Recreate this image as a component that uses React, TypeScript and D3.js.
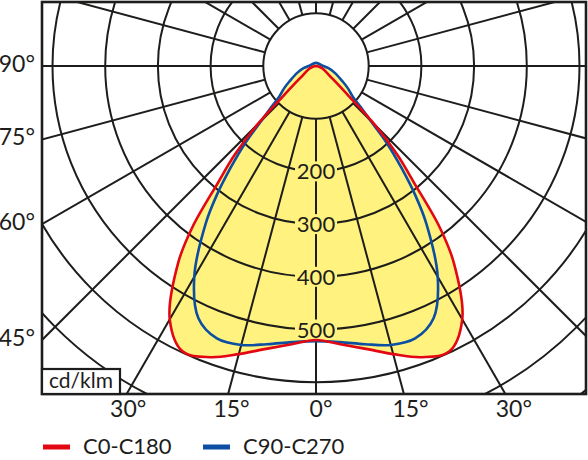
import React from 'react';
import * as d3 from 'd3';

// Polar light distribution, gamma angle measured from nadir (straight down)
const ANGLES = [0, 5, 10, 15, 20, 25, 30, 35, 37.5, 40, 42.5, 45, 47.5, 50, 55, 60, 70, 80, 90, 180];
const C0_C180 = [520, 530, 545, 566, 588, 598, 555, 456, 385, 290, 228, 158, 85, 55, 30, 22, 12, 5, 0, 0];
const C90_C270 = [522, 526, 536, 548, 550, 528, 462, 365, 310, 252, 200, 145, 115, 92, 74, 58, 38, 24, 14, 6];

const RING_VALUES = [100, 200, 300, 400, 500, 600, 700, 800];
const RING_LABELS = [200, 300, 400, 500];
const GRID_ANGLES = d3.range(0, 360, 15);
const SIDE_TICKS = [90, 75, 60, 45];
const BOTTOM_TICKS = [-30, -15, 0, 15, 30];

const SERIES = [
  { name: 'C0-C180', values: C0_C180, color: '#e30613' },
  { name: 'C90-C270', values: C90_C270, color: '#0b4ea2' },
];

const W = 588;
const H = 460;
const cx = 316;
const cy = 66;
const frame = { x0: 42, y0: 2, x1: 586, y1: 394 };
const INK = '#1d1d1b';
const YELLOW = '#fff27f';
const FONT = "Lato, 'Open Sans', sans-serif";

const rScale = d3.scaleLinear().domain([0, 100]).range([0, 52.7]);
const rad = (deg: number) => (deg * Math.PI) / 180;

// point along a ray at gamma degrees from nadir (positive = right)
const polar = (gamma: number, r: number): [number, number] => [
  cx + r * Math.sin(rad(gamma)),
  cy + r * Math.cos(rad(gamma)),
];

const shapePath = (values: number[]) => {
  // right half 0..180, then left half back down towards nadir
  const right = ANGLES.map((a, i) => [Math.PI - rad(a), rScale(values[i])] as [number, number]);
  const left = ANGLES.map((a, i) => [Math.PI + rad(a), rScale(values[i])] as [number, number])
    .slice(1, -1)
    .reverse();
  const line = d3.lineRadial<[number, number]>()
    .angle((d) => d[0])
    .radius((d) => d[1])
    .curve(d3.curveCatmullRomClosed.alpha(0.5));
  return line([...right, ...left]) || '';
};

const App: React.FC = () => {
  const rInner = rScale(100);
  const rOuter = rScale(1000);

  return (
    <svg
      width={W}
      height={H}
      viewBox={`0 0 ${W} ${H}`}
      style={{ position: 'absolute', left: 0, top: 0, background: '#fff' }}
      fontFamily={FONT}
    >
      <defs>
        <clipPath id="frameClip">
          <rect x={frame.x0} y={frame.y0} width={frame.x1 - frame.x0} height={frame.y1 - frame.y0} />
        </clipPath>
      </defs>
      <rect width={W} height={H} fill="#fff" />

      {/* yellow area under both curves */}
      <g transform={`translate(${cx},${cy})`}>
        {SERIES.map((s) => (
          <path key={s.name + '-fill'} d={shapePath(s.values)} fill={YELLOW} stroke="none" />
        ))}
      </g>

      {/* grid */}
      <g clipPath="url(#frameClip)" stroke={INK} strokeWidth={2} fill="none">
        {GRID_ANGLES.map((a) => {
          const [x1, y1] = polar(a, rInner);
          const [x2, y2] = polar(a, rOuter);
          return <line key={'ray' + a} x1={x1} y1={y1} x2={x2} y2={y2} />;
        })}
        {RING_VALUES.map((v) => (
          <circle key={'ring' + v} cx={cx} cy={cy} r={rScale(v)} />
        ))}
      </g>

      {/* ring values on the nadir axis */}
      {RING_LABELS.map((v) => {
        const y = cy + rScale(v);
        return (
          <g key={'lab' + v}>
            <rect x={cx - 21} y={y - 10} width={42} height={20} fill={YELLOW} />
            <text x={cx} y={y + 8} textAnchor="middle" fontSize={22} fill={INK}>
              {v}
            </text>
          </g>
        );
      })}

      {/* curves */}
      <g transform={`translate(${cx},${cy})`} fill="none" strokeWidth={2.6} strokeLinejoin="round">
        {[...SERIES].reverse().map((s) => (
          <path key={s.name} d={shapePath(s.values)} stroke={s.color} />
        ))}
      </g>

      {/* frame */}
      <rect
        x={frame.x0}
        y={frame.y0}
        width={frame.x1 - frame.x0}
        height={frame.y1 - frame.y0}
        fill="none"
        stroke={INK}
        strokeWidth={2.6}
      />

      {/* unit box */}
      <rect x={frame.x0} y={369} width={78} height={frame.y1 - 369} fill="#fff" stroke={INK} strokeWidth={2.2} />
      <text x={81} y={388} textAnchor="middle" fontSize={21} fill={INK}>
        cd/klm
      </text>

      {/* side angle labels */}
      {SIDE_TICKS.map((a) => {
        const y = cy + (cx - frame.x0) / Math.tan(rad(a));
        return (
          <text key={'side' + a} x={35} y={y + 6} textAnchor="end" fontSize={23} fill={INK}>
            {a}°
          </text>
        );
      })}

      {/* bottom angle labels */}
      {BOTTOM_TICKS.map((a) => {
        const x = cx + (frame.y1 - cy + 6) * Math.tan(rad(a)) + 5;
        return (
          <text key={'bot' + a} x={x} y={417} textAnchor="middle" fontSize={23} fill={INK}>
            {Math.abs(a)}°
          </text>
        );
      })}

      {/* legend */}
      {SERIES.map((s, i) => {
        const x = 43 + i * 160;
        return (
          <g key={'leg' + s.name}>
            <line x1={x} x2={x + 27} y1={447} y2={447} stroke={s.color} strokeWidth={5} />
            <text x={x + 40} y={454} fontSize={22} fill={INK}>
              {s.name}
            </text>
          </g>
        );
      })}
    </svg>
  );
};

export default App;
